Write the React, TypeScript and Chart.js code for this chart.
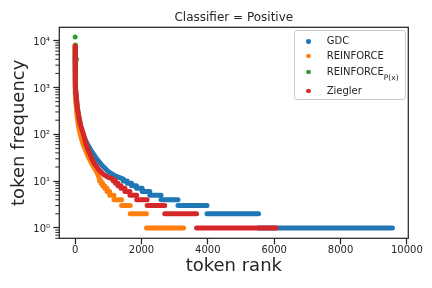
import React, { useEffect, useRef } from 'react';
import { Chart, registerables } from 'chart.js';

Chart.register(...registerables);

const FONT = "'DejaVu Sans', sans-serif";
const INK = '#262626';

// axis ticks
const xTickValues = [0, 2000, 4000, 6000, 8000, 10000];
const yTickValues = [1, 10, 100, 1000, 10000];
const yTickLabels = ['10⁰', '10¹', '10²', '10³', '10⁴'];

// series
const seriesNames = ['GDC', 'REINFORCE', 'REINFORCE', 'Ziegler'];
const seriesSubscripts = ['', '', 'P(x)', ''];
const seriesColors = ['#1f77b4', '#ff7f0e', '#2ca02c', '#d62728'];

// low-frequency plateaus: frequency levels and the last rank holding each level
const stepFreq = [10, 9, 8, 7, 6, 5, 4, 3, 2, 1];

// GDC
const gdcCurveRank = [0, 1, 2, 4, 7, 12, 20, 40, 80, 150, 250, 350, 480, 620, 800, 1000, 1200, 1450];
const gdcCurveFreq = [5000, 3500, 2800, 2000, 1400, 1000, 700, 420, 250, 150, 95, 65, 45, 32, 22, 16, 13, 11];
const gdcStepEnd = [1570, 1700, 1850, 2020, 2250, 2590, 3100, 3975, 5530, 9565];

// REINFORCE
const reinforceCurveRank = [0, 1, 2, 4, 7, 12, 20, 35, 60, 100, 160, 230, 300, 380, 470, 560, 640, 700, 735];
const reinforceCurveFreq = [8000, 5500, 4000, 2500, 1600, 1000, 600, 380, 240, 150, 95, 65, 48, 35, 26, 20, 16, 13, 11];
const reinforceStepEnd = [780, 830, 890, 960, 1040, 1170, 1400, 1660, 2150, 3270];

// REINFORCE_P(x)
const reinforcePxCurveRank = [1, 2, 3, 5, 8, 12, 20, 30, 60, 100, 160];
const reinforcePxCurveFreq = [8000, 7700, 4200, 3000, 2200, 1600, 1000, 700, 400, 260, 160];
const reinforcePxDotRank = [0, 40];
const reinforcePxDotFreq = [12000, 4000];

// Ziegler
const zieglerCurveRank = [0, 1, 2, 3, 5, 8, 12, 20, 30, 60, 100, 160, 250, 330, 440, 560, 700, 850, 1000, 1150];
const zieglerCurveFreq = [7600, 6000, 4800, 3800, 3000, 2200, 1600, 1000, 700, 400, 260, 160, 100, 60, 38, 25, 18, 14, 12, 11];
const zieglerStepEnd = [1220, 1290, 1380, 1500, 1650, 1855, 2170, 2700, 3660, 6060];

function lineData(curveRank: number[], curveFreq: number[], stepEnd: number[]) {
  const pts: { x: number; y: number | null }[] = curveRank.map((r, i) => ({ x: r, y: curveFreq[i] }));
  let start = curveRank[curveRank.length - 1];
  stepEnd.forEach((end, i) => {
    pts.push({ x: start, y: null });
    pts.push({ x: start, y: stepFreq[i] });
    pts.push({ x: end, y: stepFreq[i] });
    start = end;
  });
  return pts;
}

const lineStyle = {
  showLine: true,
  pointRadius: 0,
  pointHoverRadius: 0,
  borderWidth: 5,
  borderCapStyle: 'round',
  borderJoinStyle: 'round',
  spanGaps: false,
  fill: false,
  tension: 0,
};

const minorTicks: number[] = [];
for (let d = -1; d <= 4; d++) {
  for (let m = 2; m <= 9; m++) minorTicks.push(m * Math.pow(10, d));
}

const framePlugin = {
  id: 'frame',
  afterDraw(chart: any) {
    const { ctx, chartArea: a, scales } = chart;
    const y = scales.y;
    ctx.save();
    ctx.strokeStyle = INK;
    ctx.lineWidth = 1;
    minorTicks.forEach((v) => {
      if (v < y.min || v > y.max) return;
      const py = y.getPixelForValue(v);
      ctx.beginPath();
      ctx.moveTo(a.left, py);
      ctx.lineTo(a.left - 4, py);
      ctx.stroke();
    });
    ctx.lineWidth = 1.25;
    ctx.strokeRect(a.left, a.top, a.right - a.left, a.bottom - a.top);
    ctx.fillStyle = INK;
    ctx.font = `12px ${FONT}`;
    ctx.textAlign = 'center';
    ctx.textBaseline = 'alphabetic';
    ctx.fillText('Classifier = Positive', (a.left + a.right) / 2, 21);
    ctx.restore();
  },
};

export default function App() {
  const ref = useRef<HTMLCanvasElement | null>(null);

  useEffect(() => {
    document.body.style.margin = '0';
    if (!ref.current) return;
    const chart = new Chart(ref.current, {
      type: 'scatter',
      data: {
        datasets: [
          { label: seriesNames[0], data: lineData(gdcCurveRank, gdcCurveFreq, gdcStepEnd), borderColor: seriesColors[0], order: 3, ...lineStyle } as any,
          { label: seriesNames[1], data: lineData(reinforceCurveRank, reinforceCurveFreq, reinforceStepEnd), borderColor: seriesColors[1], order: 2, ...lineStyle } as any,
          { label: seriesNames[2], data: lineData(reinforcePxCurveRank, reinforcePxCurveFreq, []), borderColor: seriesColors[2], order: 1, ...lineStyle } as any,
          {
            label: seriesNames[2] + ' dots',
            data: reinforcePxDotRank.map((r, i) => ({ x: r, y: reinforcePxDotFreq[i] })),
            showLine: false,
            pointRadius: 2.5,
            pointHoverRadius: 2.5,
            borderWidth: 0,
            backgroundColor: seriesColors[2],
            order: 1,
          } as any,
          { label: seriesNames[3], data: lineData(zieglerCurveRank, zieglerCurveFreq, zieglerStepEnd), borderColor: seriesColors[3], order: 0, ...lineStyle } as any,
        ],
      },
      options: {
        animation: false,
        responsive: false,
        events: [],
        layout: { padding: { top: 27.3, right: 23.7, bottom: 0, left: 0 } },
        plugins: {
          legend: { display: false },
          tooltip: { enabled: false },
          title: { display: false },
        },
        scales: {
          x: {
            type: 'linear',
            min: -478,
            max: 10043,
            afterFit: (s: any) => { s.height = 49.7; },
            afterBuildTicks: (s: any) => { s.ticks = xTickValues.map((v) => ({ value: v })); },
            ticks: {
              autoSkip: false,
              maxRotation: 0,
              padding: 0,
              color: INK,
              font: { family: FONT, size: 10, lineHeight: 1.2 },
              callback: (v: any) => String(v),
            },
            grid: { display: true, drawOnChartArea: false, drawTicks: true, tickLength: 6, tickWidth: 1.25, tickColor: INK },
            border: { display: false },
            title: {
              display: true,
              text: 'token rank',
              color: INK,
              font: { family: FONT, size: 18, lineHeight: 1.2 },
              padding: { top: 0, bottom: 10.4 },
            },
          },
          y: {
            type: 'logarithmic',
            min: 0.645,
            max: 19300,
            afterFit: (s: any) => { s.width = 59.3; },
            afterBuildTicks: (s: any) => { s.ticks = yTickValues.map((v) => ({ value: v })); },
            ticks: {
              autoSkip: false,
              padding: 3.3,
              labelOffset: 1.6,
              color: INK,
              font: { family: FONT, size: 10, lineHeight: 1.2 },
              callback: (v: any) => {
                const i = yTickValues.indexOf(Number(v));
                return i >= 0 ? yTickLabels[i] : '';
              },
            },
            grid: { display: true, drawOnChartArea: false, drawTicks: true, tickLength: 6, tickWidth: 1.25, tickColor: INK },
            border: { display: false },
            title: {
              display: true,
              text: 'token frequency',
              color: INK,
              font: { family: FONT, size: 18, lineHeight: 1.2 },
              padding: { top: 8.2, bottom: 0 },
            },
          },
        },
      } as any,
      plugins: [framePlugin],
    });
    return () => chart.destroy();
  }, []);

  const rowCenters = [40.7, 55.3, 71.3, 90.3];

  return (
    <div style={{ position: 'relative', width: 432, height: 288, fontFamily: FONT }}>
      <canvas ref={ref} width={432} height={288} style={{ display: 'block', width: 432, height: 288 }} />
      <div
        style={{
          position: 'absolute',
          left: 294,
          top: 30,
          width: 112,
          height: 70,
          boxSizing: 'border-box',
          border: '1px solid #cccccc',
          borderRadius: 3,
          background: 'rgba(255,255,255,0.8)',
        }}
      />
      {seriesNames.map((name, i) => (
        <React.Fragment key={i}>
          <div
            style={{
              position: 'absolute',
              left: 308.3 - 2.25,
              top: rowCenters[i] + 0.8 - 2.25,
              width: 4.5,
              height: 4.5,
              borderRadius: '50%',
              background: seriesColors[i],
            }}
          />
          <div
            style={{
              position: 'absolute',
              left: 326.7,
              top: rowCenters[i] - 5.8,
              fontSize: 10,
              lineHeight: '12px',
              color: INK,
              whiteSpace: 'nowrap',
            }}
          >
            {name}
            {seriesSubscripts[i] ? (
              <span style={{ fontSize: 7.5, position: 'relative', top: 5 }}>{seriesSubscripts[i]}</span>
            ) : null}
          </div>
        </React.Fragment>
      ))}
    </div>
  );
}
